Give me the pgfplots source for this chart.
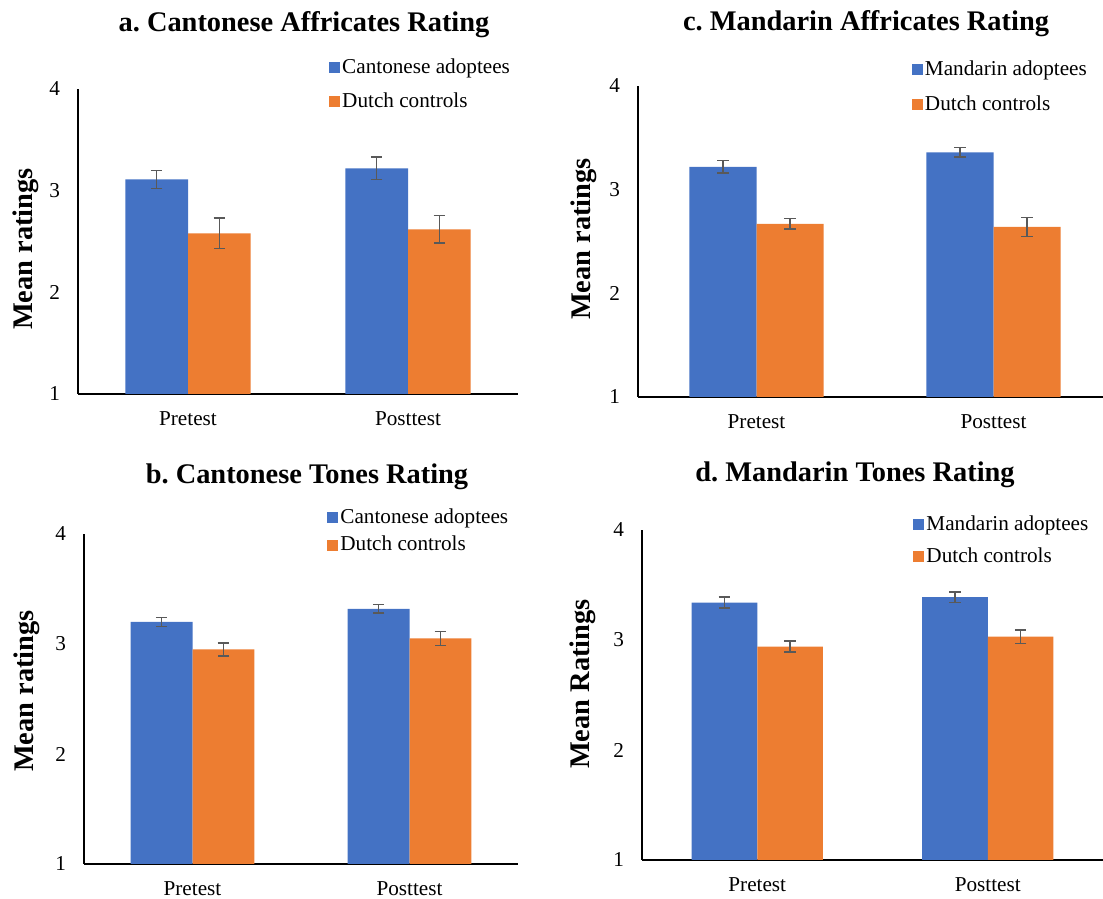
\documentclass[border=0pt]{standalone}
\usepackage{fontspec}
\setmainfont{Liberation Serif}
\usepackage{pgfplots}
\usepackage{pgfplotstable}
\pgfplotsset{compat=1.18}
\definecolor{xblue}{HTML}{4472C4}
\definecolor{xorange}{HTML}{ED7D31}
\definecolor{errgray}{HTML}{595959}
\frenchspacing

\pgfplotstableread{
x b be o oe
0 3.11 0.09 2.58 0.15
1 3.22 0.11 2.62 0.135
}\dataA
\pgfplotstableread{
x b be o oe
0 3.20 0.04 2.95 0.06
1 3.32 0.04 3.05 0.065
}\dataB
\pgfplotstableread{
x b be o oe
0 3.22 0.06 2.67 0.05
1 3.36 0.045 2.64 0.09
}\dataC
\pgfplotstableread{
x b be o oe
0 3.34 0.05 2.94 0.05
1 3.39 0.047 3.03 0.062
}\dataD

\pgfplotsset{
 panel/.style={
  scale only axis, ybar=0pt, bar width=0.285,
  ymin=1, ymax=4, ytick={1,2,3,4}, xtick={0,1}, xticklabels={Pretest,Posttest},
  xmin=-0.5, xmax=1.5,
  axis x line*=bottom, axis y line*=left,
  axis line style={-, line width=0.9pt, black},
  major tick length=0pt,
  tick label style={font=\fontsize{10.6}{12}\selectfont},
  /pgf/number format/assume math mode=true,
  yticklabel style={xshift=-5.5pt},
  xticklabel style={yshift=-5.5pt},
  ylabel style={font=\fontsize{14.2}{16}\selectfont\bfseries, anchor=center},
  legend style={draw=none, fill=none, anchor=west, inner sep=0pt,
    font=\fontsize{10.6}{12}\selectfont, nodes={inner sep=1pt}},
  legend cell align=left,
  legend image code/.code={\fill[##1] (0pt,-2.75pt) rectangle (5.5pt,2.75pt);},
  error bars/y dir=both, error bars/y explicit,
  error bars/error bar style={line width=0.75pt, draw=errgray},
  error bars/error mark options={rotate=90, line width=0.75pt, draw=errgray, mark size=2.9pt},
 }
}

\begin{document}
\begin{tikzpicture}
\useasboundingbox (0,0) rectangle (551.5pt,449.5pt);

% a
\begin{axis}[panel, at={(39pt,252.5pt)}, anchor=south west, width=220pt, height=152.5pt,
  ylabel={Mean ratings},
  ylabel style={at={(axis description cs:-0.118,0.475)}},
  legend style={at={(axis description cs:0.570,1.015)}, row sep=5.9pt}]
\addplot[fill=xblue, draw=none] table[x=x, y=b, y error=be] {\dataA};
\addplot[fill=xorange, draw=none] table[x=x, y=o, y error=oe] {\dataA};
\legend{Cantonese adoptees, Dutch controls}
\end{axis}

% b
\begin{axis}[panel, at={(42pt,17.5pt)}, anchor=south west, width=217pt, height=165pt,
  ylabel={Mean ratings},
  ylabel style={at={(axis description cs:-0.1325,0.524)}},
  legend style={at={(axis description cs:0.560,1.008)}, row sep=2.9pt}]
\addplot[fill=xblue, draw=none] table[x=x, y=b, y error=be] {\dataB};
\addplot[fill=xorange, draw=none] table[x=x, y=o, y error=oe] {\dataB};
\legend{Cantonese adoptees, Dutch controls}
\end{axis}

% c
\begin{axis}[panel, at={(319pt,251pt)}, anchor=south west, width=233pt, height=155.5pt,
  xmax=1.466, bar width=0.283,
  ylabel={Mean ratings},
  ylabel style={at={(axis description cs:-0.116,0.508)}},
  legend style={at={(axis description cs:0.587,0.997)}, row sep=6.4pt}]
\addplot[fill=xblue, draw=none] table[x=x, y=b, y error=be] {\dataC};
\addplot[fill=xorange, draw=none] table[x=x, y=o, y error=oe] {\dataC};
\legend{Mandarin adoptees, Dutch controls}
\end{axis}

% d
\begin{axis}[panel, at={(321pt,19.5pt)}, anchor=south west, width=230.5pt, height=165pt,
  ylabel={Mean Ratings},
  ylabel style={at={(axis description cs:-0.128,0.533)}},
  legend style={at={(axis description cs:0.588,0.968)}, row sep=4.9pt}]
\addplot[fill=xblue, draw=none] table[x=x, y=b, y error=be] {\dataD};
\addplot[fill=xorange, draw=none] table[x=x, y=o, y error=oe] {\dataD};
\legend{Mandarin adoptees, Dutch controls}
\end{axis}

\begin{scope}[every node/.style={anchor=base, font=\fontsize{14.2}{17}\selectfont\bfseries}]
\node at (152pt,433.5pt) {a. Cantonese Affricates Rating};
\node at (433pt,434pt) {c. Mandarin Affricates Rating};
\node at (153.5pt,207.5pt) {b. Cantonese Tones Rating};
\node at (427.5pt,208.5pt) {d. Mandarin Tones Rating};
\end{scope}
\end{tikzpicture}
\end{document}
